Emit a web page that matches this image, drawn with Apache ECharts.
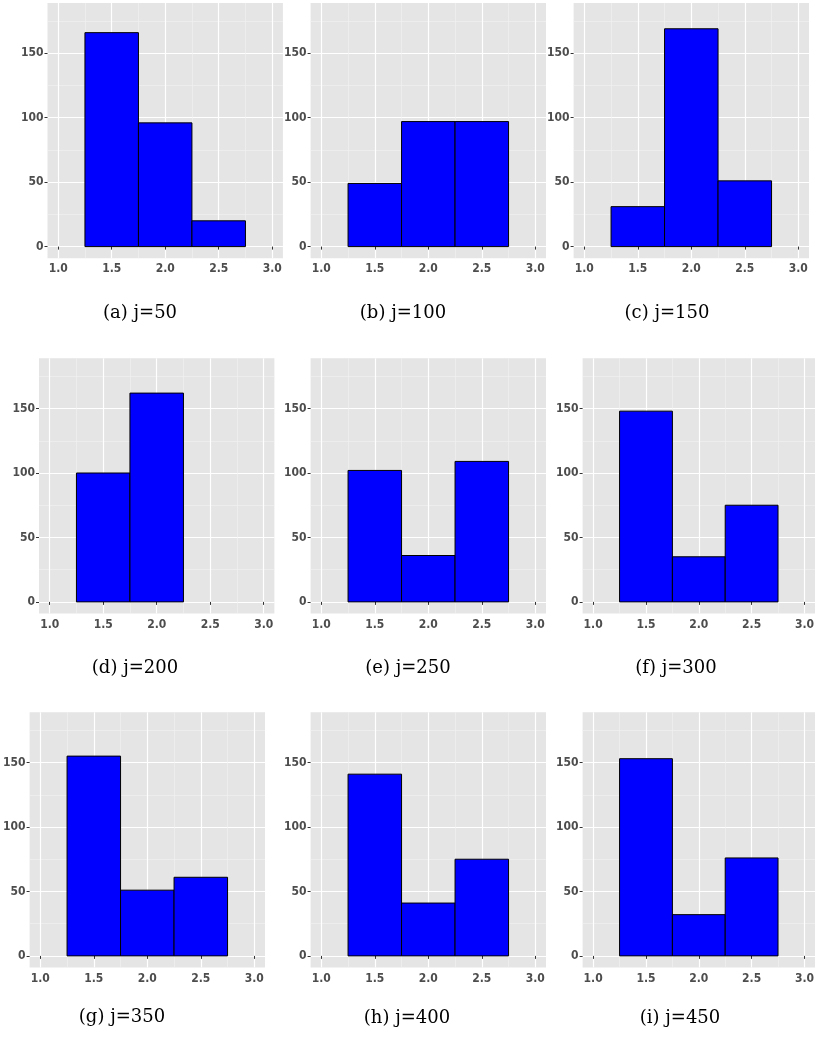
<!DOCTYPE html>
<html>
<head>
<meta charset="utf-8">
<script src="https://cdn.jsdelivr.net/npm/echarts@6/dist/echarts.min.js"></script>
<style>
html,body{margin:0;padding:0;background:#fff;}
#chart{width:817px;height:1042px;}
</style>
</head>
<body>
<div id="chart"></div>
<script>
// ---- data ----
const binStarts = [1.25, 1.75, 2.25];
const binWidth = 0.5;
const captions = ["(a) j=50", "(b) j=100", "(c) j=150", "(d) j=200", "(e) j=250", "(f) j=300", "(g) j=350", "(h) j=400", "(i) j=450"];
const countsJ50  = [166, 96, 20];
const countsJ100 = [49, 97, 97];
const countsJ150 = [31, 169, 51];
const countsJ200 = [100, 162, null];
const countsJ250 = [102, 36, 109];
const countsJ300 = [148, 35, 75];
const countsJ350 = [155, 51, 61];
const countsJ400 = [141, 41, 75];
const countsJ450 = [153, 32, 76];
const xTicks = [1.0, 1.5, 2.0, 2.5, 3.0];
const xMinor = [1.25, 1.75, 2.25, 2.75];
const yTicks = [0, 50, 100, 150];
const yMinor = [25, 75, 125, 175];
const xRange = [0.9, 3.1];
const yRange = [-9, 189];

// ---- layout ----
const panels = [
  {counts: countsJ50,  left: 47.5, top: 3,   cx: 140, cy: 313},
  {counts: countsJ100, left: 310.6, top: 3,  cx: 403, cy: 313},
  {counts: countsJ150, left: 573.6, top: 3,  cx: 667, cy: 313},
  {counts: countsJ200, left: 39,   top: 358.3, cx: 135, cy: 668},
  {counts: countsJ250, left: 310.6, top: 358.3, cx: 408, cy: 668},
  {counts: countsJ300, left: 582.6, top: 358.3, cx: 676, cy: 668},
  {counts: countsJ350, left: 29.6, top: 712.3, cx: 122, cy: 1017},
  {counts: countsJ400, left: 310.6, top: 712.3, cx: 407, cy: 1018},
  {counts: countsJ450, left: 582.6, top: 712.3, cx: 680, cy: 1018}
];
const PW = 235.4, PH = 255.2;
const labelFont = {color: '#4D4D4D', fontSize: 12, fontWeight: 'bold', fontFamily: "'Liberation Sans Narrow', 'DejaVu Sans Condensed', 'Roboto', sans-serif"};

const grid = [], xAxis = [], yAxis = [], series = [], graphic = [];
panels.forEach((p, i) => {
  grid.push({left: p.left, top: p.top, width: PW, height: PH, show: true, backgroundColor: '#E5E5E5', borderWidth: 0, containLabel: false});
  // minor axes (grid lines only)
  xAxis.push({type: 'value', gridIndex: i, min: xRange[0], max: xRange[1], position: 'bottom',
    axisLine: {show: false}, axisTick: {show: false, customValues: xMinor}, axisLabel: {show: false, customValues: xMinor},
    splitLine: {show: true, lineStyle: {color: '#F2F2F2', width: 0.6}}});
  yAxis.push({type: 'value', gridIndex: i, min: yRange[0], max: yRange[1], position: 'left',
    axisLine: {show: false}, axisTick: {show: false, customValues: yMinor}, axisLabel: {show: false, customValues: yMinor},
    splitLine: {show: true, lineStyle: {color: '#F2F2F2', width: 0.6}}});
  // major axes
  xAxis.push({type: 'value', gridIndex: i, min: xRange[0], max: xRange[1], position: 'bottom',
    axisLine: {show: false},
    axisTick: {show: true, length: 3, customValues: xTicks, lineStyle: {color: '#333', width: 1}},
    axisLabel: Object.assign({show: true, margin: 5, customValues: xTicks, formatter: v => Number(v).toFixed(1)}, labelFont),
    splitLine: {show: true, lineStyle: {color: '#FFFFFF', width: 1.2}}});
  yAxis.push({type: 'value', gridIndex: i, min: yRange[0], max: yRange[1], position: 'left',
    axisLine: {show: false},
    axisTick: {show: true, length: 3, customValues: yTicks, lineStyle: {color: '#333', width: 1}},
    axisLabel: Object.assign({show: true, margin: 4, customValues: yTicks}, labelFont),
    splitLine: {show: true, lineStyle: {color: '#FFFFFF', width: 1.2}}});
  const data = [];
  binStarts.forEach((s, k) => {
    if (p.counts[k] != null) data.push([s, s + binWidth, p.counts[k]]);
  });
  series.push({
    type: 'custom', xAxisIndex: 2 * i + 1, yAxisIndex: 2 * i + 1, data: data, silent: true,
    renderItem: function (params, api) {
      const a = api.coord([api.value(0), 0]);
      const b = api.coord([api.value(1), api.value(2)]);
      return {type: 'rect', shape: {x: a[0], y: b[1], width: b[0] - a[0], height: a[1] - b[1]},
        style: {fill: '#0000FF', stroke: '#000000', lineWidth: 1}};
    }
  });
  graphic.push({type: 'text', x: p.cx, y: p.cy,
    style: {text: captions[i], align: 'center', verticalAlign: 'middle', textAlign: 'center', textVerticalAlign: 'middle',
      font: "18px 'DejaVu Serif', 'Liberation Serif', serif", fill: '#000'}});
});

const chart = echarts.init(document.getElementById('chart'), null, {renderer: 'canvas'});
chart.setOption({animation: false, backgroundColor: '#FFFFFF', grid, xAxis, yAxis, series, graphic});
</script>
</body>
</html>
